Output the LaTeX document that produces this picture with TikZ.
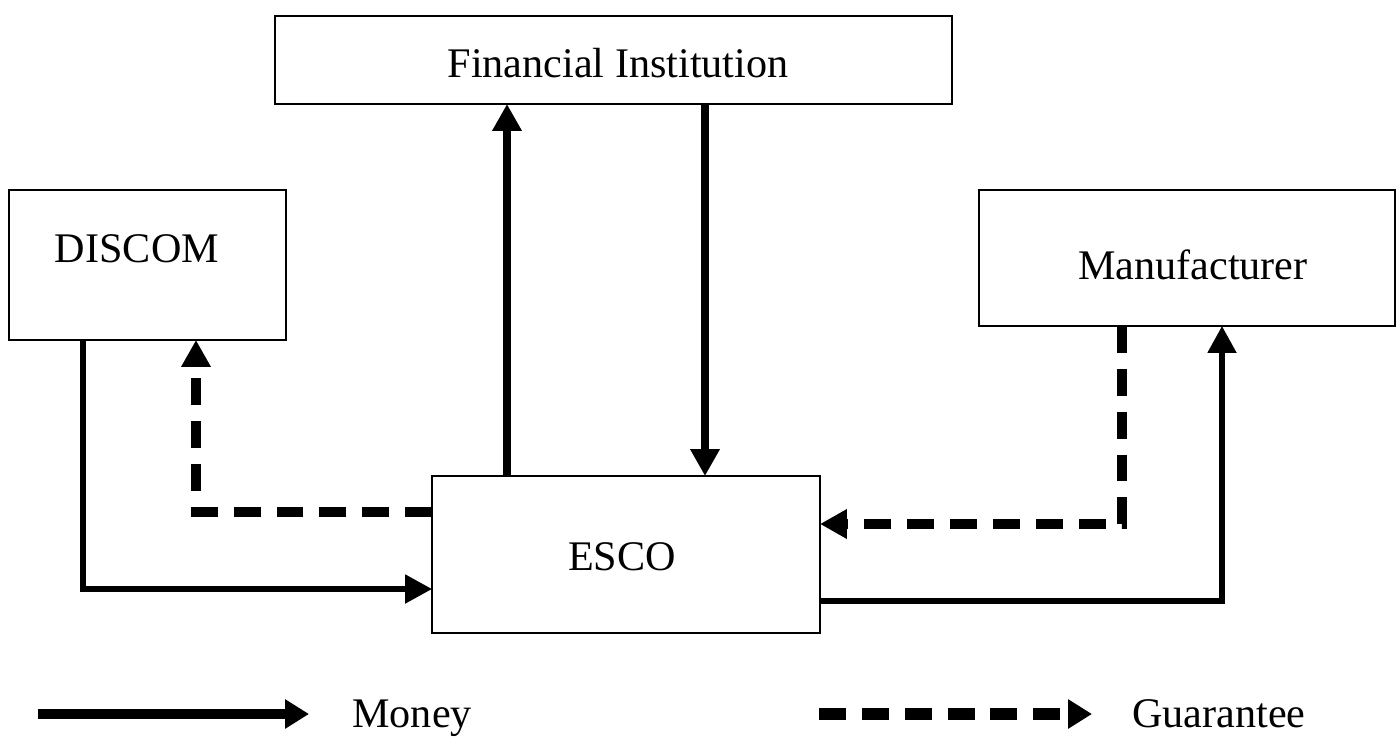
\documentclass[tikz,border=0pt]{standalone}
\usepackage{fontspec}
\setmainfont{Liberation Serif}
\usetikzlibrary{arrows.meta,calc}
\begin{document}
\begin{tikzpicture}[x=0.02cm,y=-0.02cm,
  box/.style={draw, line width=1.1pt, rectangle, inner sep=0pt, outer sep=0pt},
  lbl/.style={font=\fontsize{24}{28}\selectfont, inner sep=0pt},
  tip/.style={-{Triangle[length=0.54cm,width=0.56cm]}},
  bigmoney/.style={line width=4pt, tip},
  money/.style={line width=3pt, tip},
  guar/.style={line width=5.5pt, dash pattern=on 15.3pt off 9.1pt, tip},
  legmoney/.style={line width=5.7pt, -{Triangle[length=0.48cm,width=0.56cm]}},
  legguar/.style={line width=6.5pt, dash pattern=on 15.3pt off 9.1pt, -{Triangle[length=0.48cm,width=0.56cm]}},
]
\useasboundingbox (0,0) rectangle (1396,738);
\fill[white] (0,0) rectangle (1396,738);

% boxes
\node[box, minimum width=13.54cm, minimum height=1.76cm] (fi) at (613.5,60) {};
\node[box, minimum width=5.54cm, minimum height=3.0cm] (discom) at (147.5,265) {};
\node[box, minimum width=8.32cm, minimum height=2.72cm] (manu) at (1187,258) {};
\node[box, minimum width=7.76cm, minimum height=3.14cm] (esco) at (626,554.5) {};

% labels
\node[lbl] (fit) at (618,63) {Financial Institution};
\node[lbl] (dist) at (137,249) {DISCOM};
\node[lbl] (manut) at (1193,265) {Manufacturer};
\node[lbl] (escot) at (622,557) {ESCO};

% helper coordinates
\coordinate (xup) at (507,0);
\coordinate (xdn) at (705,0);
\coordinate (xdg) at (196,0);
\coordinate (xds) at (83,0);
\coordinate (xmg) at (1122,0);
\coordinate (xms) at (1222,0);
\coordinate (ydg) at (0,512);
\coordinate (yds) at (0,589);
\coordinate (ymg) at (0,524);
\coordinate (yms) at (0,601);

% Financial Institution <-> ESCO
\draw[bigmoney] (xup |- esco.north) -- (xup |- fi.south);
\draw[bigmoney] (xdn |- fi.south) -- (xdn |- esco.north);

% DISCOM
\draw[guar] (esco.west |- ydg) -- (xdg |- ydg) -- (xdg |- discom.south);
\draw[money] (xds |- discom.south) -- (xds |- yds) -- (esco.west |- yds);

% Manufacturer
\draw[guar] (xmg |- manu.south) -- (xmg |- ymg) -- (esco.east |- ymg);
\draw[money] (esco.east |- yms) -- (xms |- yms) -- (xms |- manu.south);

% legend
\coordinate (lm1) at (38,714);
\coordinate (lm2) at (309,714);
\coordinate (lg1) at (819,714);
\coordinate (lg2) at (1092,714);
\draw[legmoney] (lm1) -- (lm2);
\draw[legguar] (lg1) -- (lg2);
\node[lbl, anchor=base west] (lmt) at (352,727) {Money};
\node[lbl, anchor=base west] (lgt) at (1132,727) {Guarantee};
\end{tikzpicture}
\end{document}
